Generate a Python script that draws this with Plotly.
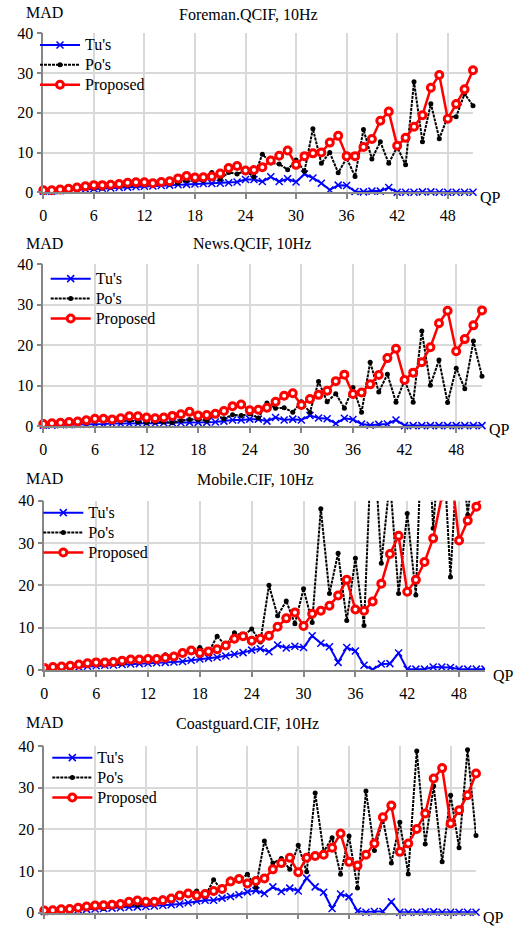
import plotly.graph_objects as go

W, H = 522, 927
FONT = "Liberation Serif"

QP = list(range(52))
X_TICKS = [0, 6, 12, 18, 24, 30, 36, 42, 48]
Y_TICKS = [0, 10, 20, 30, 40]
SERIES_NAMES = ["Tu's", "Po's", "Proposed"]
TITLES = ["Foreman.QCIF, 10Hz", "News.QCIF, 10Hz", "Mobile.CIF, 10Hz", "Coastguard.CIF, 10Hz"]

# ---------------- Foreman.QCIF ----------------
foreman_tu = [0.3, 0.3, 0.4, 0.5, 0.6, 0.8, 0.9, 1.0, 1.1, 1.2, 1.3, 1.4, 1.5, 1.6, 1.7, 1.8,
              1.9, 2.0, 2.1, 2.2, 2.2, 2.3, 2.4, 2.6, 3.2, 3.2, 2.7, 3.9, 2.7, 3.4, 2.6, 4.6,
              3.6, 2.3, 0.6, 1.8, 1.7, 0.2, 0.1, 0.3, 0.3, 1.2, 0.0, 0.0, 0.0, 0.1, 0.1, 0.0,
              0.0, 0.0, 0.0, 0.0]
foreman_po = [0.4, 0.4, 0.5, 0.6, 0.7, 1.0, 1.0, 1.0, 1.3, 1.5, 1.7, 1.9, 2.0, 2.0, 2.2, 2.1,
              2.4, 3.0, 2.9, 3.0, 5.0, 3.3, 5.0, 4.6, 5.4, 3.9, 9.6, 7.4, 7.1, 5.7, 8.1, 5.3,
              16.0, 7.3, 10.0, 4.9, 8.6, 4.0, 15.8, 8.4, 12.7, 7.3, 11.4, 6.9, 27.8, 12.7, 22.3, 13.5,
              19.0, 19.0, 24.8, 21.8]
foreman_prop = [0.5, 0.5, 0.7, 0.9, 1.2, 1.5, 1.8, 1.8, 1.9, 2.1, 2.4, 2.5, 2.5, 2.3, 2.6, 2.8,
                3.5, 4.1, 3.7, 3.8, 4.0, 4.7, 6.1, 6.6, 5.5, 5.6, 6.3, 8.0, 9.2, 10.5, 6.9, 9.1,
                9.8, 10.0, 12.5, 14.2, 9.1, 9.1, 11.4, 13.4, 18.0, 20.3, 11.7, 13.7, 16.5, 19.4, 26.3, 29.5,
                18.5, 22.2, 25.9, 30.7]

# ---------------- News.QCIF ----------------
news_tu = [0.2, 0.2, 0.3, 0.3, 0.4, 0.4, 0.5, 0.5, 0.6, 0.6, 0.6, 0.7, 0.7, 0.7, 0.8, 0.8,
           0.8, 0.9, 0.9, 0.9, 1.0, 1.2, 1.5, 1.5, 1.7, 1.7, 1.2, 2.1, 1.5, 1.7, 1.5, 2.6,
           2.0, 1.8, 0.6, 1.9, 1.6, 0.5, 0.2, 0.4, 0.5, 1.5, 0.1, 0.1, 0.1, 0.1, 0.1, 0.1,
           0.1, 0.1, 0.1, 0.1]
news_po = [0.4, 0.5, 0.6, 0.7, 0.8, 1.0, 1.2, 1.3, 1.3, 1.2, 1.4, 1.0, 0.8, 1.0, 1.0, 0.8,
           1.3, 1.6, 1.6, 1.3, 2.8, 1.8, 2.8, 2.6, 3.0, 2.0, 5.7, 4.4, 4.5, 3.4, 6.0, 3.4,
           11.0, 6.0, 8.0, 4.4, 9.5, 3.4, 15.8, 8.4, 12.8, 5.9, 11.3, 5.9, 23.5, 10.1, 16.3, 5.8,
           14.3, 9.2, 21.0, 12.3]
news_prop = [0.5, 0.7, 0.8, 1.0, 1.1, 1.4, 1.8, 1.8, 1.6, 1.9, 2.4, 2.4, 2.1, 1.9, 2.1, 2.5,
             2.9, 3.5, 2.6, 2.7, 3.0, 3.7, 4.9, 5.3, 3.9, 4.0, 4.5, 6.0, 7.5, 8.1, 5.2, 6.7,
             7.7, 8.7, 11.1, 12.7, 7.9, 8.3, 10.3, 12.6, 16.8, 19.1, 11.4, 13.2, 15.8, 19.5, 25.4, 28.5,
             18.5, 21.5, 24.9, 28.6]

# ---------------- Mobile.CIF ----------------
mobile_tu = [0.3, 0.4, 0.5, 0.6, 0.7, 0.9, 1.0, 1.1, 1.2, 1.3, 1.4, 1.5, 1.6, 1.7, 1.8, 1.9,
             2.0, 2.3, 2.6, 2.8, 3.0, 3.3, 3.7, 4.1, 4.7, 5.0, 4.3, 5.9, 5.2, 5.6, 5.3, 8.1,
             6.3, 5.5, 1.8, 5.3, 4.5, 1.1, 0.1, 1.4, 1.5, 4.0, 0.2, 0.2, 0.2, 0.7, 0.7, 0.6,
             0.2, 0.2, 0.2, 0.2]
mobile_po = [0.4, 0.5, 0.6, 0.7, 1.0, 1.2, 1.3, 1.2, 1.6, 1.5, 2.0, 2.0, 2.3, 2.6, 3.6, 3.2,
             4.3, 4.6, 5.3, 4.1, 8.0, 5.7, 8.8, 8.0, 9.7, 6.6, 20.0, 12.8, 16.3, 10.9, 19.2, 11.2,
             38.1, 18.1, 27.6, 11.7, 26.4, 10.5, 60.0, 25.2, 45.0, 18.1, 37.0, 17.7, 75.0, 33.5, 60.0, 22.0,
             58.0, 36.6, 55.0, 48.0]
mobile_prop = [0.5, 0.7, 0.8, 1.0, 1.3, 1.6, 1.8, 1.8, 1.9, 2.2, 2.5, 2.5, 2.6, 2.6, 2.9, 3.2,
               4.0, 4.6, 4.0, 4.4, 4.9, 5.8, 7.4, 8.0, 6.9, 7.4, 8.1, 10.2, 12.2, 13.6, 10.4, 13.3,
               14.0, 15.2, 17.6, 21.3, 14.3, 14.0, 16.2, 20.4, 27.4, 31.7, 18.5, 21.3, 25.5, 31.1, 41.0, 48.0,
               30.6, 35.3, 38.6, 42.0]

# ---------------- Coastguard.CIF ----------------
coast_tu = [0.3, 0.4, 0.5, 0.6, 0.7, 0.8, 0.9, 1.0, 1.1, 1.2, 1.3, 1.4, 1.5, 1.6, 1.8, 1.9,
            2.1, 2.4, 2.8, 3.0, 3.0, 3.5, 3.9, 4.3, 5.0, 5.3, 4.6, 6.2, 5.1, 5.9, 5.2, 8.3,
            6.2, 4.9, 1.0, 4.5, 3.8, 0.4, 0.1, 0.3, 0.3, 2.6, 0.1, 0.1, 0.1, 0.2, 0.2, 0.1,
            0.1, 0.1, 0.1, 0.1]
coast_po = [0.4, 0.5, 0.6, 0.7, 0.9, 1.1, 1.2, 1.0, 1.5, 1.4, 1.9, 1.8, 2.2, 2.5, 3.5, 3.2,
            4.1, 4.5, 5.2, 3.9, 7.9, 5.3, 8.1, 7.8, 9.2, 6.1, 17.2, 11.9, 13.0, 10.4, 16.2, 9.8,
            28.7, 14.6, 18.0, 9.2, 18.4, 5.9, 29.2, 14.9, 22.5, 11.9, 21.7, 9.3, 38.8, 16.5, 30.4, 12.2,
            28.2, 15.6, 39.1, 18.5]
coast_prop = [0.5, 0.6, 0.8, 0.9, 1.2, 1.5, 1.7, 1.8, 1.9, 2.1, 2.6, 2.9, 2.6, 2.6, 3.0, 3.4,
              4.1, 4.6, 4.1, 4.5, 5.2, 5.7, 7.5, 8.1, 7.0, 7.6, 8.2, 10.4, 11.9, 13.2, 9.7, 13.2,
              13.6, 13.9, 15.6, 19.0, 12.2, 11.3, 13.9, 16.6, 22.9, 25.7, 14.6, 16.6, 20.1, 23.8, 32.2, 34.7,
              21.4, 24.6, 28.2, 33.4]

DATA = [
    (foreman_tu, foreman_po, foreman_prop),
    (news_tu, news_po, news_prop),
    (mobile_tu, mobile_po, mobile_prop),
    (coast_tu, coast_po, coast_prop),
]

# ---------------- layout geometry (pixels) ----------------
PANELS = [
    dict(x0=43.3, x1=473, y0=33.3, y1=192.3, title=(248, 14), mad=(44.5, 13), qp=(490, 197),
         leg=(35, 30), ticks=True),
    dict(x0=43.3, x1=482, y0=264.3, y1=426, title=(252, 243.5), mad=(44.5, 243), qp=(499, 430),
         leg=(45.7, 263.7), ticks=True),
    dict(x0=44.3, x1=485, y0=500.7, y1=670, title=(255, 479), mad=(44.5, 478), qp=(503, 675),
         leg=(38.3, 497.7), ticks=True),
    dict(x0=44.3, x1=476, y0=746, y1=912.7, title=(247.5, 723.5), mad=(44.5, 722), qp=(493, 917),
         leg=(47.3, 742.7), ticks=False),
]

def fx(px):
    return px / W

def fy(py):
    return 1 - py / H

def legend_label(name):
    # legend rows are spaced for a 13px font; the label itself is drawn at 16px
    return '<span style="font-size:16px">' + name + '</span>'

fig = go.Figure()
annotations = []
layout = dict(
    width=W, height=H, margin=dict(l=0, r=0, t=0, b=0, autoexpand=False),
    paper_bgcolor="white", plot_bgcolor="white",
    font=dict(family=FONT, size=16, color="black"),
    showlegend=True,
)

AX_GRAY = "#868686"
GRID = "#d9d9d9"

for i, (p, (tu, po, prop)) in enumerate(zip(PANELS, DATA)):
    n = "" if i == 0 else str(i + 1)
    xa, ya = "x" + n, "y" + n
    leg = "legend" + n
    clip = i == 2
    layout["xaxis" + n] = dict(
        domain=[fx(p["x0"]), fx(p["x1"])], anchor=ya, range=[0, 51],
        tickmode="array", tickvals=X_TICKS, ticktext=[str(v) for v in X_TICKS],
        showgrid=True, gridcolor=GRID, gridwidth=1.5,
        showline=True, linecolor=AX_GRAY, linewidth=1.5,
        ticks="outside", ticklen=5, tickcolor=AX_GRAY, tickwidth=1.5,
        showticklabels=p["ticks"], tickfont=dict(family=FONT, size=16, color="black"),
        ticklabelstandoff=3,
        zeroline=False, fixedrange=True, automargin=False,
    )
    layout["yaxis" + n] = dict(
        domain=[fy(p["y1"]), fy(p["y0"])], anchor=xa, range=[0, 40],
        tickmode="array", tickvals=Y_TICKS, ticktext=[str(v) for v in Y_TICKS],
        showgrid=True, gridcolor=GRID, gridwidth=1.5,
        showline=True, linecolor=AX_GRAY, linewidth=1.5,
        ticks="outside", ticklen=5, tickcolor=AX_GRAY, tickwidth=1.5,
        tickfont=dict(family=FONT, size=16, color="black"),
        zeroline=False, fixedrange=True, automargin=False,
    )
    layout[leg] = dict(
        x=fx(p["leg"][0]), y=fy(p["leg"][1]), xanchor="left", yanchor="top",
        bgcolor="rgba(255,255,255,0)", borderwidth=0, tracegroupgap=0,
        font=dict(family=FONT, size=13, color="black"), itemwidth=40,
        traceorder="normal",
    )

    fig.add_trace(go.Scatter(
        x=QP, y=tu, name=legend_label(SERIES_NAMES[0]), xaxis=xa, yaxis=ya, legend=leg,
        mode="lines+markers", line=dict(color="#0000FF", width=2),
        marker=dict(symbol="x-thin", size=7, line=dict(color="#0000FF", width=1.5)),
        cliponaxis=clip,
    ))
    fig.add_trace(go.Scatter(
        x=QP, y=po, name=legend_label(SERIES_NAMES[1]), xaxis=xa, yaxis=ya, legend=leg,
        mode="lines+markers", line=dict(color="black", width=2, dash="3px,1px"),
        marker=dict(symbol="circle", size=5, color="black"),
        cliponaxis=clip,
    ))
    fig.add_trace(go.Scatter(
        x=QP, y=prop, name=legend_label(SERIES_NAMES[2]), xaxis=xa, yaxis=ya, legend=leg,
        mode="lines+markers", line=dict(color="#FF0000", width=2.5),
        marker=dict(symbol="circle", size=7, color="white", line=dict(color="#FF0000", width=3)),
        cliponaxis=clip,
    ))

    annotations.append(dict(text=TITLES[i], x=fx(p["title"][0]), y=fy(p["title"][1]),
                            xref="paper", yref="paper", xanchor="center", yanchor="middle",
                            showarrow=False, font=dict(family=FONT, size=16, color="black")))
    annotations.append(dict(text="MAD", x=fx(p["mad"][0]), y=fy(p["mad"][1]),
                            xref="paper", yref="paper", xanchor="center", yanchor="middle",
                            showarrow=False, font=dict(family=FONT, size=16, color="black")))
    annotations.append(dict(text="QP", x=fx(p["qp"][0]), y=fy(p["qp"][1]),
                            xref="paper", yref="paper", xanchor="center", yanchor="middle",
                            showarrow=False, font=dict(family=FONT, size=16, color="black")))

layout["annotations"] = annotations
fig.update_layout(**layout)
fig.write_html("out.html", config={"displayModeBar": False},
               post_script="document.body.style.margin='0px';")
